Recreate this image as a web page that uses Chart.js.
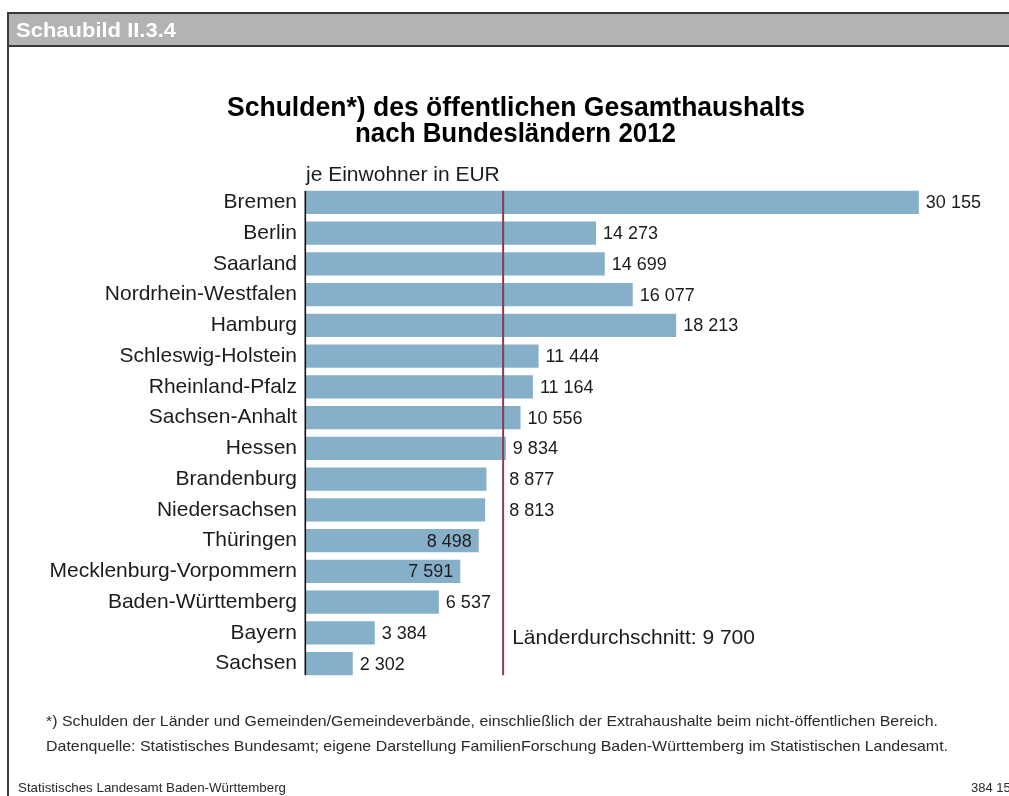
<!DOCTYPE html>
<html lang="de">
<head>
<meta charset="utf-8">
<title>Schulden des öffentlichen Gesamthaushalts nach Bundesländern 2012</title>
<script src="https://cdn.jsdelivr.net/npm/chart.js@4/dist/chart.umd.min.js"></script>
<style>
  html, body { margin: 0; padding: 0; background: #ffffff; }
  #wrap { position: relative; width: 1009px; height: 796px; overflow: hidden; }
  canvas { display: block; }
</style>
</head>
<body>
<div id="wrap"><canvas id="chart" width="1009" height="796"></canvas></div>
<script>
// Bundesländer, in der dargestellten Reihenfolge
const laender = [
  'Bremen', 'Berlin', 'Saarland', 'Nordrhein-Westfalen', 'Hamburg',
  'Schleswig-Holstein', 'Rheinland-Pfalz', 'Sachsen-Anhalt', 'Hessen',
  'Brandenburg', 'Niedersachsen', 'Thüringen', 'Mecklenburg-Vorpommern',
  'Baden-Württemberg', 'Bayern', 'Sachsen'
];

// Schulden je Einwohner in EUR
const schuldenJeEinwohner = [
  30155, 14273, 14699, 16077, 18213,
  11444, 11164, 10556, 9834,
  8877, 8813, 8498, 7591,
  6537, 3384, 2302
];

// Durchschnitt aller Länder
const laenderDurchschnitt = 9700;

const titelZeilen = [
  'Schulden*) des öffentlichen Gesamthaushalts',
  'nach Bundesländern 2012'
];
const einheit = 'je Einwohner in EUR';
const fussnoten = [
  '*) Schulden der Länder und Gemeinden/Gemeindeverbände, einschließlich der Extrahaushalte beim nicht-öffentlichen Bereich.',
  'Datenquelle: Statistisches Bundesamt; eigene Darstellung FamilienForschung Baden-Württemberg im Statistischen Landesamt.'
];

const SANS = '"Liberation Sans", Arial, Helvetica, sans-serif';
const NARROW = '"Liberation Sans Narrow", "Liberation Sans", Arial, sans-serif';
const TEXT = '#1c1c1c';
const BAR = '#86b0ca';
const AVG = '#8d3a4a';
const BAR_PCT = 0.75;

function fmt(n) {
  return String(n).replace(/\B(?=(\d{3})+(?!\d))/g, ' ');
}

// draw text squeezed/stretched horizontally to a given width
function fitText(ctx, text, x, y, width, align) {
  const w = ctx.measureText(text).width;
  const s = width / w;
  ctx.save();
  let x0 = x;
  if (align === 'center') x0 = x - width / 2;
  else if (align === 'right') x0 = x - width;
  ctx.translate(x0, y);
  ctx.scale(s, 1);
  ctx.textAlign = 'left';
  ctx.fillText(text, 0, 0);
  ctx.restore();
}

// frame, header, title and footnotes
const rahmen = {
  id: 'rahmen',
  beforeDraw(chart) {
    const ctx = chart.ctx;
    ctx.save();
    ctx.fillStyle = '#ffffff';
    ctx.fillRect(0, 0, chart.width, chart.height);

    // header bar
    ctx.fillStyle = '#b3b3b3';
    ctx.fillRect(7, 13, chart.width, 33);
    ctx.fillStyle = '#3a3a3a';
    ctx.fillRect(7, 12, chart.width, 2);
    ctx.fillRect(7, 45, chart.width, 2);
    // left frame edge
    ctx.fillRect(7, 12, 2, chart.height);

    ctx.textBaseline = 'alphabetic';
    ctx.fillStyle = '#ffffff';
    ctx.font = 'bold 20px ' + SANS;
    fitText(ctx, 'Schaubild II.3.4', 16, 37, 160, 'left');

    // title
    ctx.fillStyle = '#000000';
    ctx.font = 'bold 27px ' + SANS;
    fitText(ctx, titelZeilen[0], 516, 116, 578, 'center');
    fitText(ctx, titelZeilen[1], 515.5, 142, 321, 'center');

    // unit line
    ctx.fillStyle = TEXT;
    ctx.font = '21px ' + SANS;
    ctx.textAlign = 'left';
    ctx.fillText(einheit, 306, 181);

    // footnotes
    ctx.fillStyle = '#2a2a2a';
    ctx.font = '15px ' + NARROW;
    fitText(ctx, fussnoten[0], 46, 726, 892, 'left');
    fitText(ctx, fussnoten[1], 46, 751, 902, 'left');

    ctx.font = '13px ' + NARROW;
    fitText(ctx, 'Statistisches Landesamt Baden-Württemberg', 18, 792, 268, 'left');
    ctx.textAlign = 'left';
    ctx.fillText('384 15', 971, 792);
    ctx.restore();
  },
  afterDatasetsDraw(chart) {
    const ctx = chart.ctx;
    const xs = chart.scales.x;
    const ys = chart.scales.y;
    const area = chart.chartArea;
    const cat = (area.bottom - area.top) / laender.length;
    const inset = cat * (1 - BAR_PCT) / 2;
    const top = area.top + inset;
    const bottom = area.bottom - inset;

    ctx.save();
    // value axis base line
    ctx.fillStyle = '#111111';
    ctx.fillRect(xs.getPixelForValue(0) - 1.5, top, 1.6, bottom - top);

    // average line
    const ax = xs.getPixelForValue(laenderDurchschnitt);
    ctx.fillStyle = AVG;
    ctx.fillRect(ax - 1, top, 2, bottom - top);

    // value labels
    ctx.font = '18px ' + SANS;
    ctx.fillStyle = TEXT;
    ctx.textBaseline = 'middle';
    schuldenJeEinwohner.forEach((v, i) => {
      const txt = fmt(v);
      const end = xs.getPixelForValue(v);
      const y = ys.getPixelForValue(i) + 1;
      const w = ctx.measureText(txt).width;
      let x = end + 7;
      let align = 'left';
      if (end < ax && x + w > ax - 4) {
        if (ax - end < 20) {
          x = ax + 6;
        } else {
          x = end - 7;
          align = 'right';
        }
      }
      ctx.textAlign = align;
      ctx.fillText(txt, x, y);
    });

    // average label
    ctx.font = '21px ' + SANS;
    ctx.textAlign = 'left';
    ctx.textBaseline = 'alphabetic';
    ctx.fillText('Länderdurchschnitt: ' + fmt(laenderDurchschnitt), ax + 9, 644);
    ctx.restore();
  }
};

new Chart(document.getElementById('chart'), {
  type: 'bar',
  data: {
    labels: laender,
    datasets: [{
      data: schuldenJeEinwohner,
      backgroundColor: BAR,
      borderWidth: 0,
      barPercentage: BAR_PCT,
      categoryPercentage: 1
    }]
  },
  options: {
    indexAxis: 'y',
    responsive: false,
    animation: false,
    events: [],
    layout: { padding: { top: 187, bottom: 117, left: 0, right: 12 } },
    plugins: {
      legend: { display: false },
      tooltip: { enabled: false },
      title: { display: false }
    },
    scales: {
      x: {
        min: 0,
        max: 34000,
        display: false
      },
      y: {
        position: 'left',
        grid: { display: false, drawTicks: false },
        border: { display: false },
        ticks: {
          padding: 9,
          color: TEXT,
          font: { family: SANS, size: 21 },
          autoSkip: false
        },
        afterFit(scale) { scale.width = 306; }
      }
    }
  },
  plugins: [rahmen]
});
</script>
</body>
</html>
